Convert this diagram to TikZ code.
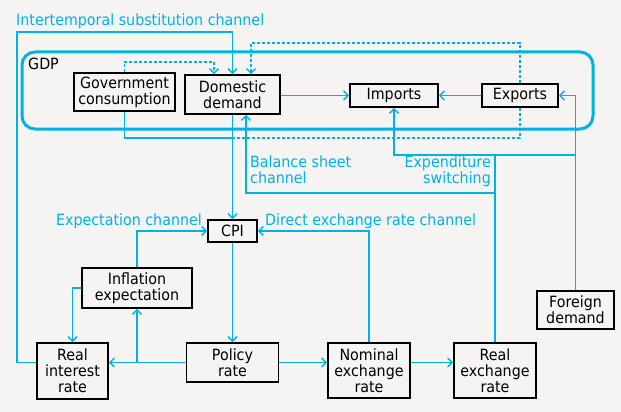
\documentclass[tikz,border=0pt]{standalone}
\usepackage{fontspec}
\setmainfont{DejaVu Sans}[FakeStretch=0.92]
\usetikzlibrary{arrows.meta}
\definecolor{cy}{RGB}{0,178,228}
\definecolor{bgc}{RGB}{245,244,242}
\newcommand\dgfont{\fontsize{15.5}{16}\selectfont}
\begin{document}
\begin{tikzpicture}[x=1pt,y=-1pt,
  box/.style={draw=black, line width=1.6pt, align=center, inner sep=0pt, font=\dgfont},
  cl/.style={draw=cy, line width=1.8pt},
  tip/.style={-{Straight Barb[length=4.5pt,width=9pt,line width=1.4pt]}},
  ar/.style={cl, tip},
  dl/.style={cl, dash pattern=on 3pt off 2pt},
  tx/.style={text=cy, font=\dgfont, inner sep=0pt}]
\fill[bgc] (0,0) rectangle (621,412);
\useasboundingbox (0,0) rectangle (621,412);

% GDP frame
\draw[cy, line width=3pt, rounded corners=13pt] (22,52) rectangle (593,129);
\node[font=\dgfont, inner sep=0pt, anchor=base west] (gdp) at (28,70) {GDP};

% boxes
\node[box, minimum width=101pt, minimum height=38pt] (gov) at (124.5,92) {Government\\consumption};
\node[box, minimum width=95pt, minimum height=39pt] (dom) at (232.5,94.5) {Domestic\\demand};
\node[box, minimum width=88pt, minimum height=23pt] (imp) at (394,95.5) {Imports};
\node[box, minimum width=76pt, minimum height=23pt] (exp) at (520,95.5) {Exports};
\node[box, minimum width=49pt, minimum height=22pt] (cpi) at (232.5,231) {CPI};
\node[box, minimum width=110pt, minimum height=40pt] (infl) at (137,288) {Inflation\\expectation};
\node[box, minimum width=71pt, minimum height=56pt] (rir) at (72.5,371) {Real\\interest\\rate};
\node[box, minimum width=92pt, minimum height=39pt] (pol) at (232.5,362.5) {Policy\\rate};
\node[box, minimum width=82pt, minimum height=55pt] (ner) at (369,370.5) {Nominal\\exchange\\rate};
\node[box, minimum width=82pt, minimum height=55pt] (rer) at (495,370.5) {Real\\exchange\\rate};
\node[box, minimum width=77pt, minimum height=38pt] (fd) at (575.5,310) {Foreign\\demand};

% helper coordinates
\coordinate (d214) at (214,0);
\coordinate (d251) at (251,0);
\coordinate (d246) at (246,0);
\coordinate (y138) at (0,138);
\coordinate (y155) at (0,155);
\coordinate (y193) at (0,193);

% intertemporal substitution channel
\draw[ar] (rir.west |- pol.west) -| (17,32) -| (dom.north);
% dashed links into domestic demand
\draw[dl, tip] (gov.north) |- (214,62) -- (dom.north -| d214);
\draw[dl, tip] (exp.north) |- (251,43) -- (dom.north -| d251);
% GDP internal links
\draw[ar] (dom.east |- imp.west) -- (imp.west);
\draw[ar] (exp.west) -- (imp.east);
\draw[ar] (fd.north) |- (exp.east);
% into CPI
\draw[cl] (gov.south) |- (dom.south |- y138);
\draw[dl] (exp.south) |- (dom.south |- y138);
\draw[ar] (dom.south) -- (cpi.north);
% balance sheet channel
\draw[ar] (rer.north) |- (246,193) -- (dom.south -| d246);
% expenditure switching
\draw[cl] (rer.north |- y193) -- (rer.north |- y155);
\draw[ar] (fd.north |- y155) -| (imp.south);
% expectation and direct channel
\draw[ar] (infl.north) |- (cpi.west);
\draw[ar] (ner.north) |- (cpi.east);
% bottom row
\draw[ar] (cpi.south) -- (pol.north);
\draw[ar] (pol.west) -- (rir.east |- pol.west);
\draw[ar] (infl.south |- pol.west) -- (infl.south);
\draw[ar] (infl.west) -| (rir.north);
\draw[ar] (pol.east) -- (ner.west |- pol.east);
\draw[ar] (ner.east |- pol.east) -- (rer.west |- pol.east);

% labels
\node[tx, anchor=base west] (t1) at (16,26) {Intertemporal substitution channel};
\node[tx, anchor=north west, align=left] (t2) at (250,156) {Balance sheet\\channel};
\node[tx, anchor=north east, align=right] (t3) at (491,156) {Expenditure\\switching};
\node[tx, anchor=base east] (t4) at (202,225.5) {Expectation channel};
\node[tx, anchor=base west] (t5) at (265,225.5) {Direct exchange rate channel};
\end{tikzpicture}
\end{document}
